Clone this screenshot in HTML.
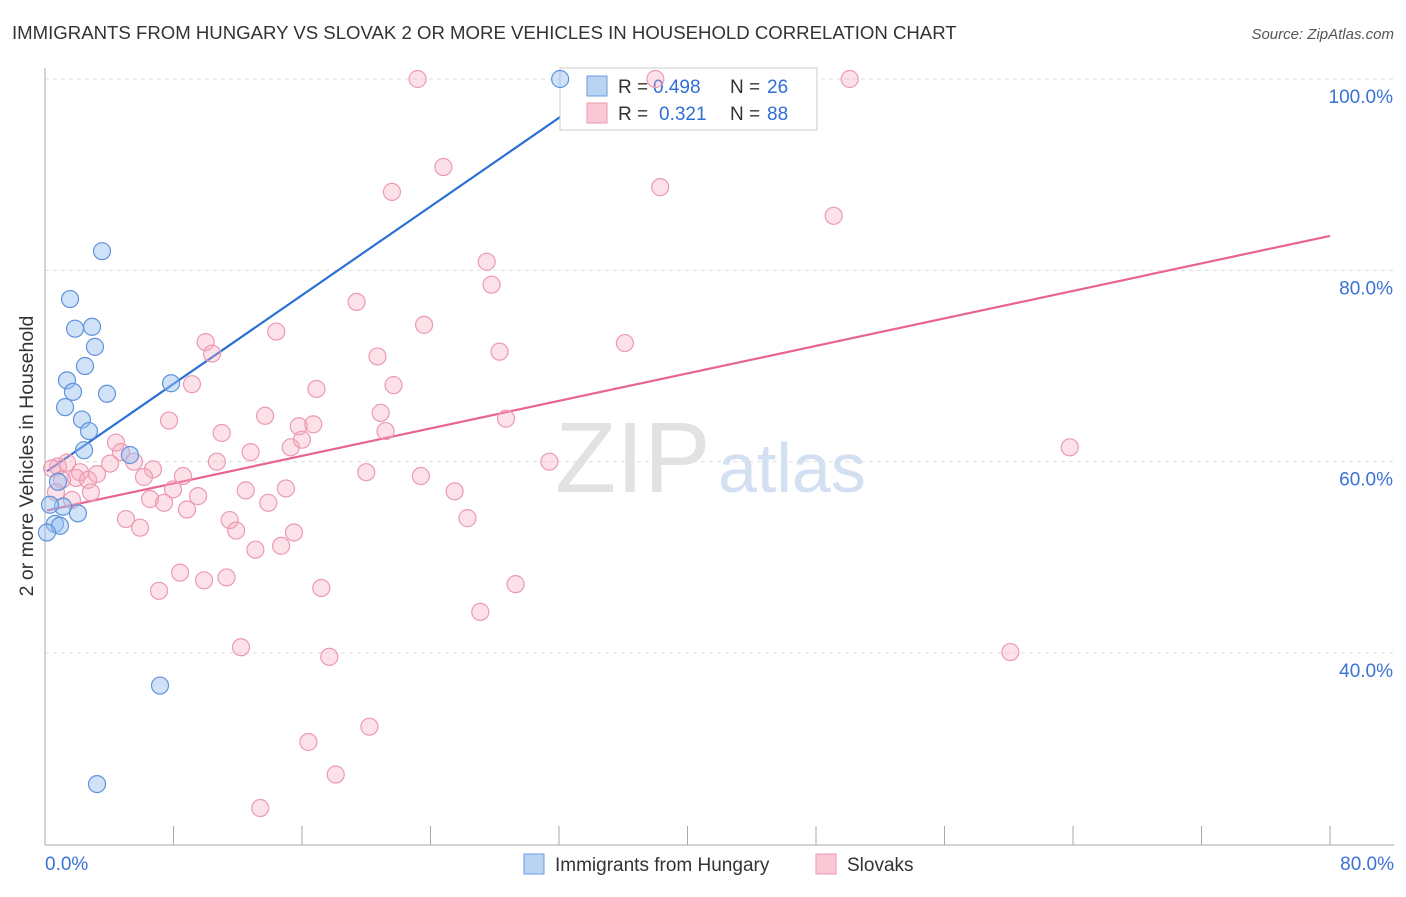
<!DOCTYPE html>
<html><head><meta charset="utf-8"><style>
body{margin:0;background:#fff;font-family:"Liberation Sans",sans-serif;}
svg text{font-family:"Liberation Sans",sans-serif;}
</style></head><body>
<svg id="c" width="1406" height="892">
<text x="12" y="39" font-size="18.6" fill="#333">IMMIGRANTS FROM HUNGARY VS SLOVAK 2 OR MORE VEHICLES IN HOUSEHOLD CORRELATION CHART</text>
<text x="1394" y="39" font-size="15" fill="#555" text-anchor="end" font-style="italic">Source: ZipAtlas.com</text>
<text x="0" y="0" transform="translate(33,456) rotate(-90)" font-size="19.5" fill="#333" text-anchor="middle">2 or more Vehicles in Household</text>
<g id="grid"></g>
<text x="555" y="492" font-size="100" fill="#e2e2e2" font-family="Liberation Serif">ZIP</text>
<text x="718" y="492" font-size="70" fill="#d3e0f2">atlas</text>
<g id="lines"></g>
<g>
<rect x="560" y="68" width="257" height="62" fill="#fff" stroke="#ccc"/>
<rect x="587" y="76" width="20" height="20" fill="#b9d3f3" stroke="#6a9ee0"/>
<rect x="587" y="103" width="20" height="20" fill="#f9c7d5" stroke="#ec9ab2"/>
<text x="618" y="93" font-size="19" fill="#333">R =</text>
<text x="653" y="93" font-size="19" fill="#2f6fd6">0.498</text>
<text x="730" y="93" font-size="19" fill="#333">N =</text>
<text x="767" y="93" font-size="19" fill="#2f6fd6">26</text>
<text x="618" y="120" font-size="19" fill="#333">R =</text>
<text x="659" y="120" font-size="19" fill="#2f6fd6">0.321</text>
<text x="730" y="120" font-size="19" fill="#333">N =</text>
<text x="767" y="120" font-size="19" fill="#2f6fd6">88</text>
</g>
<g id="pts"></g>
<g>
<rect x="524" y="854" width="20" height="20" fill="#b9d3f3" stroke="#6a9ee0"/>
<text x="555" y="871" font-size="19" fill="#333">Immigrants from Hungary</text>
<rect x="816" y="854" width="20" height="20" fill="#f9c7d5" stroke="#ec9ab2"/>
<text x="847" y="871" font-size="19" fill="#333">Slovaks</text>
</g>
</svg>
<script>
const yTicks=[40,60,80,100];
const yTickLabels=["40.0%","60.0%","80.0%","100.0%"];
const blueX=[3.55,1.56,1.87,2.93,3.11,2.49,1.37,1.74,1.25,3.86,7.85,2.30,2.74,2.43,5.29,0.81,1.12,2.05,0.62,0.93,0.12,0.31,7.16,3.24,32.07];
const blueY=[82.0,77.0,73.9,74.1,72.0,70.0,68.5,67.3,65.7,67.1,68.2,64.4,63.2,61.2,60.7,57.9,55.3,54.6,53.5,53.3,52.6,55.5,36.6,26.3,100];
const pinkX=[23.2,38.0,50.1,24.8,21.6,38.3,49.1,27.5,27.8,19.4,23.6,14.4,10.0,10.4,20.7,28.3,36.1,9.15,16.9,21.7,13.7,20.9,7.72,15.8,16.7,28.7,11.0,21.2,15.3,16.0,4.42,4.73,12.8,63.8,10.7,5.54,6.72,4.05,0.81,0.44,1.37,2.18,1.93,2.68,3.24,8.59,20.0,23.4,31.4,6.16,1.06,12.5,15.0,7.97,2.86,9.53,1.68,6.54,7.41,8.84,13.9,25.5,11.5,5.04,5.92,11.9,15.5,26.3,14.7,13.1,8.41,9.90,11.3,7.10,17.2,29.3,27.1,12.2,17.7,60.1,16.4,20.2,18.1,13.4,0.68];
const pinkY=[100,100,100,90.8,88.2,88.7,85.7,80.9,78.5,76.7,74.3,73.6,72.5,71.3,71.0,71.5,72.4,68.1,67.6,68.0,64.8,65.1,64.3,63.7,63.9,64.5,63.0,63.2,61.5,62.3,62.0,61.0,61.0,61.5,60.0,60.0,59.2,59.8,59.5,59.3,59.9,58.9,58.3,58.1,58.7,58.5,58.9,58.5,60.0,58.4,58.1,57.0,57.2,57.1,56.8,56.4,56.0,56.1,55.7,55.0,55.7,56.9,53.9,54.0,53.1,52.8,52.6,54.1,51.2,50.8,48.4,47.6,47.9,46.5,46.8,47.2,44.3,40.6,39.6,40.1,30.7,32.3,27.3,23.8,56.8];
const blueTrend=[0.12,59.0,35.5,100];
const pinkTrend=[0.12,54.9,80,83.6];
const NS="http://www.w3.org/2000/svg";
const X=v=>45+v*1285/80, Y=v=>79+(100-v)*9.567;
function mk(t,a,p){const e=document.createElementNS(NS,t);for(const k in a)e.setAttribute(k,a[k]);p.appendChild(e);return e;}
const g=document.getElementById('grid');
yTicks.forEach((t,i)=>{
 const l=mk('line',{x1:45,x2:1394,y1:Y(t),y2:Y(t),stroke:'#ddd','stroke-dasharray':'4,4'},g);
 
 
 const tx=mk('text',{x:1393,y:Y(t)+24,'font-size':19,fill:'#3a72d6','text-anchor':'end'},g);
 tx.textContent=yTickLabels[i];
 
 
});
const ax=mk('line',{x1:45,x2:45,y1:68,y2:845,stroke:'#aaa'},g);


const bx=mk('line',{x1:45,x2:1394,y1:845,y2:845,stroke:'#aaa'},g);


for(let v=8;v<=80;v+=8){const t=mk('line',{x1:X(v),x2:X(v),y1:826,y2:845,stroke:'#aaa'},g);
 
 }
[[0,"0.0%",'start',45],[80,"80.0%",'end',1394]].forEach(d=>{const t=mk('text',{x:d[3],y:870,'font-size':19,fill:'#3a72d6','text-anchor':d[2]},g);t.textContent=d[1];
 
 });
const p=document.getElementById('pts');
pinkX.forEach((x,i)=>{const c=mk('circle',{cx:X(x),cy:Y(pinkY[i]),r:8.5,fill:'rgba(246,170,192,0.35)',stroke:'#ec9ab2','stroke-width':1.2},p);
 
 });
blueX.forEach((x,i)=>{const c=mk('circle',{cx:X(x),cy:Y(blueY[i]),r:8.5,fill:'rgba(150,190,240,0.45)',stroke:'#5f93dc','stroke-width':1.2},p);
 
 });
const L=document.getElementById('lines');
const bl=mk('line',{x1:X(blueTrend[0]),y1:Y(blueTrend[1]),x2:X(blueTrend[2]),y2:Y(blueTrend[3]),stroke:'#2a6fd6','stroke-width':2.2},L);


const pl=mk('line',{x1:X(pinkTrend[0]),y1:Y(pinkTrend[1]),x2:X(pinkTrend[2]),y2:Y(pinkTrend[3]),stroke:'#e8658f','stroke-width':2.2},L);


</script>
</body></html>
